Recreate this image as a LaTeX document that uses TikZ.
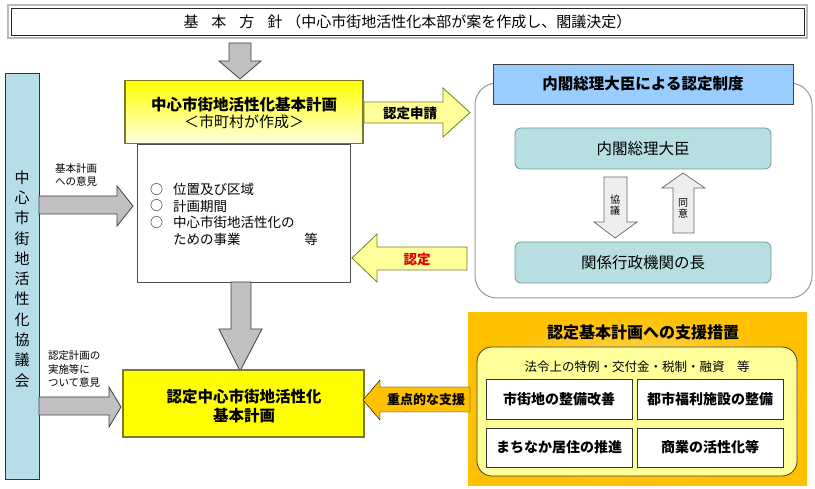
\documentclass[tikz,border=0pt]{standalone}
\usepackage{fontspec}
\setmainfont{Noto Sans CJK JP}
\definecolor{arrgray}{HTML}{C0C0C0}
\definecolor{arredge}{HTML}{404040}
\definecolor{councilblue}{HTML}{B7DDE8}
\definecolor{headblue}{HTML}{99CCFF}
\definecolor{teal}{HTML}{B7DEE0}
\definecolor{tealedge}{HTML}{6F9A9A}
\definecolor{olive}{HTML}{7A7A2A}
\definecolor{paleyel}{HTML}{FFFF99}
\definecolor{gold}{HTML}{FFC000}
\definecolor{goldlight}{HTML}{FFE38A}
\definecolor{lightgrayarr}{HTML}{EEEEEE}
\definecolor{redtext}{HTML}{E00000}
\newcommand\myfs[2]{\fontsize{#1}{#2}\selectfont}
\begin{document}
\begin{tikzpicture}[x=1pt,y=-1pt,
  every node/.style={inner sep=0pt, outer sep=0pt},
  grayarr/.style={fill=arrgray, draw=arredge, line width=0.8},
  yelarr/.style={fill=paleyel, draw=olive, line width=0.8},
  lightarr/.style={fill=lightgrayarr, draw=arredge!80, line width=0.7},
  goldarr/.style={fill=gold},
  tealbox/.style={draw=tealedge, fill=teal, rounded corners=6, line width=0.8, font=\myfs{15.5}{18}},
  whitebox/.style={draw=black!80, fill=white, line width=0.8, minimum width=146, font=\bfseries\myfs{14}{16}},
  smalltext/.style={font=\myfs{10.5}{13.5}, align=left}
]
\path[use as bounding box, fill=white] (0,0) rectangle (815,489);

% top box
\draw[gray!55, line width=2.5] (8,5) rectangle (807,38);
\node[draw=black!85, line width=0.8, minimum width=793, minimum height=27,
      font=\myfs{15}{17}] (top) at (407.5,21.5) {基\hspace{13pt}本\hspace{13pt}方\hspace{13pt}針\hspace{4pt}（中心市街地活性化本部が案を作成し、閣議決定）};

% arrow top -> plan
\draw[grayarr] (229,43) -- (251,43) -- (251,61) -- (261,61) -- (240,79) -- (219,61) -- (229,61) -- cycle;

% plan body
\node[draw=gray!60!black, fill=white, line width=0.8, minimum width=213, minimum height=138] (body) at (243.5,213) {};
% plan header
\node[draw=olive, line width=1.2, top color=yellow, bottom color=yellow!12, minimum width=238, minimum height=63] (plan) at (244,112) {};
\node[font=\bfseries\myfs{15.5}{18}] (plant) at (244,105) {中心市街地活性化基本計画};
\node[font=\myfs{15}{18}] (plans) at (244,122) {＜市町村が作成＞};

% items
\node[font=\myfs{13}{16.7}, align=left, anchor=west] (bul) at (150,206) {○\\○\\○};
\node[font=\myfs{13.5}{16.7}, align=left, anchor=west] (items) at (173,214.5) {位置及び区域\\計画期間\\中心市街地活性化の\\ための事業};
\node[font=\myfs{13.5}{16}] (etc) at (311,239) {等};

% council
\node[draw=black!80, fill=councilblue, line width=0.8, minimum width=34, minimum height=406] (council) at (22,276) {};
\node[font=\myfs{15}{20.3}, align=center] (councilt) at (22,279) {中\\心\\市\\街\\地\\活\\性\\化\\協\\議\\会};

% arrow council -> body
\draw[grayarr] (39,196) -- (117,196) -- (117,186) -- (133,206) -- (117,226) -- (117,214) -- (39,214) -- cycle;
\node[smalltext, anchor=west] (op1) at (55,175) {基本計画\\への意見};

% arrow council -> cert
\draw[grayarr] (39,397) -- (109,397) -- (109,387) -- (121,407) -- (109,427) -- (109,415) -- (39,415) -- cycle;
\node[smalltext, anchor=west] (op2) at (48,369.5) {認定計画の\\実施等に\\ついて意見};

% arrow body -> cert
\draw[grayarr] (231,282) -- (251,282) -- (251,329) -- (262,329) -- (240,371) -- (219,329) -- (231,329) -- cycle;

% cert plan
\node[draw=olive, line width=1.2, top color=yellow, middle color=yellow!8, bottom color=yellow, minimum width=241, minimum height=67] (cert) at (243.5,403.5) {};
\node[font=\bfseries\myfs{15.5}{19}, align=center] (certt) at (244,406.5) {認定中心市街地活性化\\基本計画};

% application arrow
\draw[yelarr] (364,102) -- (443,102) -- (443,88) -- (470,112.5) -- (443,137) -- (443,123) -- (364,123) -- cycle;
\node[font=\bfseries\myfs{13.5}{16}] (apply) at (410,113) {認定申請};

% approval arrow
\draw[yelarr] (467,247) -- (377,247) -- (377,234) -- (352,258) -- (377,282) -- (377,270) -- (467,270) -- cycle;
\node[font=\bfseries\myfs{13.5}{16}, text=redtext] (appro) at (417,259) {認定};

% approval system
\node[draw=gray!80, line width=1, rounded corners=22, fill=white, minimum width=337, minimum height=215] (appr) at (643.5,190.5) {};
\node[draw=black!75, fill=headblue, line width=0.8, minimum width=300, minimum height=40, font=\bfseries\myfs{15.5}{18}] (head) at (643,84) {内閣総理大臣による認定制度};
\node[tealbox, minimum width=256, minimum height=41] (pm) at (643,148.5) {内閣総理大臣};
\node[tealbox, minimum width=256, minimum height=41] (heads) at (643,262.5) {関係行政機関の長};
\draw[lightarr] (604,177) -- (627,177) -- (627,222) -- (637,222) -- (615,238) -- (594,222) -- (604,222) -- cycle;
\draw[lightarr] (673,233) -- (694,233) -- (694,188) -- (705,188) -- (683,173) -- (662,188) -- (673,188) -- cycle;
\node[font=\myfs{10}{11}, align=center] (kyogi) at (615,205) {協\\議};
\node[font=\myfs{10}{11}, align=center] (doui) at (683,208.5) {同\\意};

% support box
\node[shading=radial, inner color=goldlight, outer color=gold, minimum width=339, minimum height=172] (sup) at (637.5,399) {};
\node[font=\bfseries\myfs{16}{18}] (supt) at (643,332) {認定基本計画への支援措置};
\node[draw=black!75, fill=paleyel, line width=0.8, rounded corners=15, minimum width=320, minimum height=129] (inner) at (637,411.5) {};
\node[font=\myfs{12.5}{15}] (innert) at (637,367) {法令上の特例・交付金・税制・融資　等};
\node[whitebox, minimum height=40] (b1) at (559,399) {市街地の整備改善};
\node[whitebox, minimum height=40] (b2) at (710,399) {都市福利施設の整備};
\node[whitebox, minimum height=39] (b3) at (559,447.5) {まちなか居住の推進};
\node[whitebox, minimum height=39] (b4) at (710,447.5) {商業の活性化等};

% support arrow
\draw[goldarr] (470,387) -- (380,387) -- (380,380) -- (363,400) -- (380,420) -- (380,412) -- (470,412) -- cycle;
\node[font=\bfseries\myfs{13}{16}] (supa) at (426,400) {重点的な支援};
\end{tikzpicture}
\end{document}
